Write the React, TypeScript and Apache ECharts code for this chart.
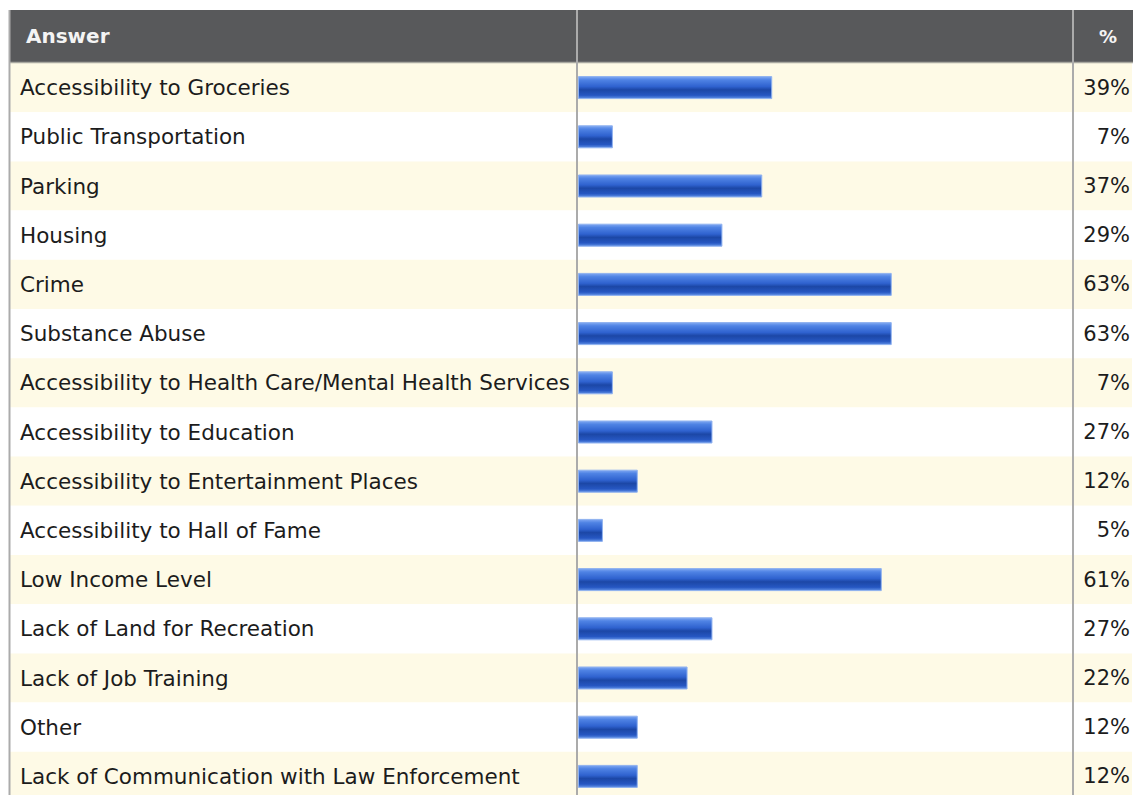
import React, { useEffect, useRef } from "react";
import * as echarts from "echarts";

const categories = [
  "Accessibility to Groceries",
  "Public Transportation",
  "Parking",
  "Housing",
  "Crime",
  "Substance Abuse",
  "Accessibility to Health Care/Mental Health Services",
  "Accessibility to Education",
  "Accessibility to Entertainment Places",
  "Accessibility to Hall of Fame",
  "Low Income Level",
  "Lack of Land for Recreation",
  "Lack of Job Training",
  "Other",
  "Lack of Communication with Law Enforcement",
];
const values = [39, 7, 37, 29, 63, 63, 7, 27, 12, 5, 61, 27, 22, 12, 12];
const percentLabels = values.map((v) => `${v}%`);
const headerLabels = ["Answer", "%"];

const FONT = "'DejaVu Sans', Tahoma, Verdana, sans-serif";
const ROW_H = 49.2;
const TOP = 63;
const CANVAS_H = 820;

export default function App() {
  const ref = useRef<HTMLDivElement>(null);
  useEffect(() => {
    if (!ref.current) return;
    const chart = echarts.init(ref.current, undefined, { renderer: "svg" });
    const gridH = ROW_H * categories.length;
    const lineStyle = { stroke: "#ababab", lineWidth: 2 };
    chart.setOption({
      animation: false,
      backgroundColor: "#ffffff",
      grid: [
        { left: 9, width: 1124, top: TOP, height: gridH },
        { left: 578, width: 498, top: TOP, height: gridH },
      ],
      xAxis: [
        { type: "value", gridIndex: 0, min: 0, max: 1, show: false },
        { type: "value", gridIndex: 1, min: 0, max: 100, show: false },
      ],
      yAxis: [
        {
          type: "category",
          gridIndex: 0,
          inverse: true,
          data: categories,
          position: "left",
          axisLine: { show: false },
          axisTick: { show: false },
          splitLine: { show: false },
          splitArea: { show: true, areaStyle: { color: ["#fefae6", "#ffffff"] } },
          axisLabel: {
            inside: true,
            margin: 11,
            color: "#1c1c1c",
            fontSize: 21.5,
            fontFamily: FONT,
            interval: 0,
          },
        },
        {
          type: "category",
          gridIndex: 0,
          inverse: true,
          data: percentLabels,
          position: "right",
          axisLine: { show: false },
          axisTick: { show: false },
          splitLine: { show: false },
          axisLabel: {
            inside: true,
            margin: 2,
            color: "#1c1c1c",
            fontSize: 21,
            fontFamily: FONT,
            interval: 0,
          },
        },
        {
          type: "category",
          gridIndex: 1,
          inverse: true,
          data: categories,
          show: false,
        },
      ],
      series: [
        {
          type: "bar",
          xAxisIndex: 1,
          yAxisIndex: 2,
          data: values,
          barWidth: 23,
          itemStyle: {
            borderColor: "#8fb1ef",
            borderWidth: 1,
            color: new echarts.graphic.LinearGradient(0, 0, 0, 1, [
              { offset: 0, color: "#80a8f2" },
              { offset: 0.15, color: "#4f83e4" },
              { offset: 0.45, color: "#2f62cf" },
              { offset: 0.6, color: "#1c47a6" },
              { offset: 0.85, color: "#2657c2" },
              { offset: 1, color: "#5f8fe6" },
            ]),
          },
        },
      ],
      graphic: [
        { type: "rect", shape: { x: 9, y: 10, width: 1124, height: 53 }, style: { fill: "#58595b" }, z: 10 },
        { type: "line", shape: { x1: 9, y1: 62.5, x2: 1133, y2: 62.5 }, style: { stroke: "#a8a8a0", lineWidth: 1.5 }, z: 11 },
        { type: "line", shape: { x1: 9.5, y1: 10, x2: 9.5, y2: CANVAS_H }, style: lineStyle, z: 11 },
        { type: "line", shape: { x1: 577, y1: 10, x2: 577, y2: CANVAS_H }, style: lineStyle, z: 11 },
        { type: "line", shape: { x1: 1073, y1: 10, x2: 1073, y2: CANVAS_H }, style: lineStyle, z: 11 },
        {
          type: "text",
          x: 26,
          y: 36,
          z: 12,
          style: {
            text: headerLabels[0],
            fill: "#f4f4f4",
            font: `bold 20px ${FONT}`,
            verticalAlign: "middle",
            align: "left",
          },
        },
        {
          type: "text",
          x: 1108,
          y: 36,
          z: 12,
          style: {
            text: headerLabels[1],
            fill: "#f4f4f4",
            font: `bold 18px ${FONT}`,
            verticalAlign: "middle",
            align: "center",
          },
        },
      ],
    });
    return () => chart.dispose();
  }, []);
  return (
    <div
      ref={ref}
      style={{ position: "fixed", left: 0, top: 0, width: 1133, height: CANVAS_H }}
    />
  );
}
